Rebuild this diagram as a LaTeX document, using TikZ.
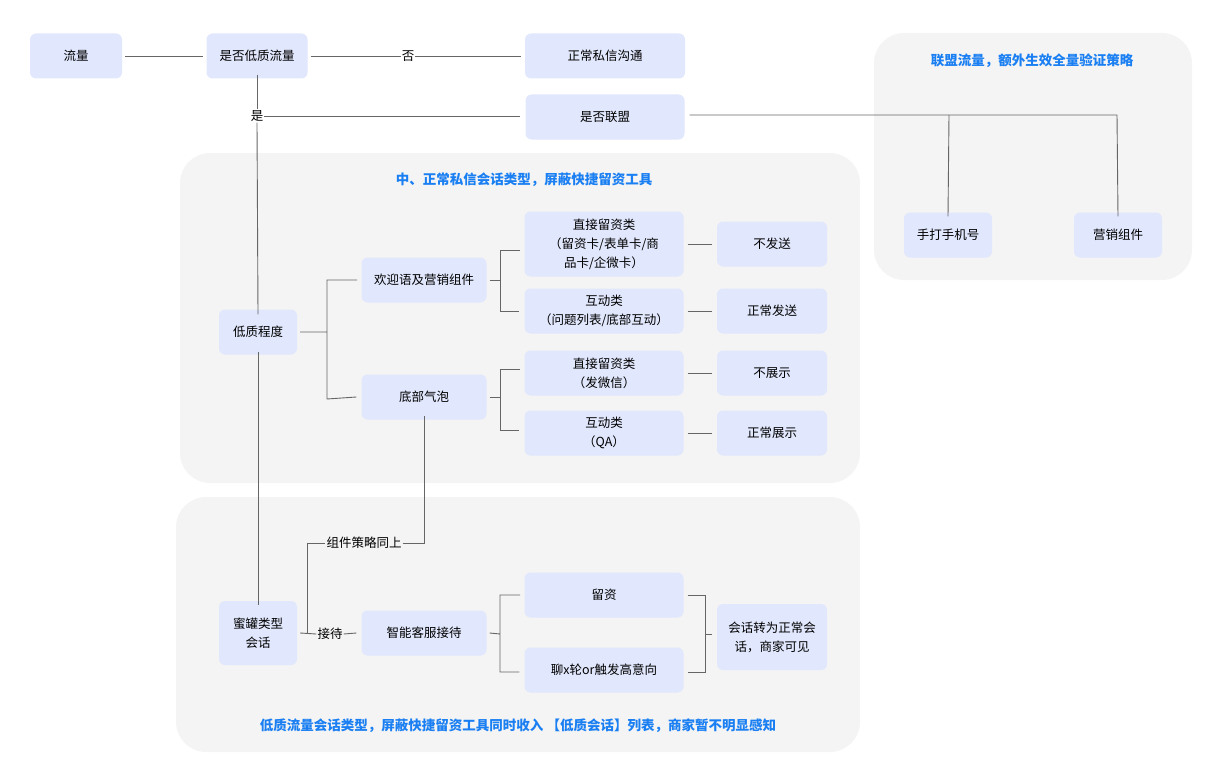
\documentclass[tikz,border=0pt]{standalone}
\usepackage{fontspec}
\setmainfont{Noto Sans CJK SC}
\begin{document}
\begin{tikzpicture}[x=1pt,y=-1pt,
  box/.style={fill=nodefill,rounded corners=6pt,inner sep=0pt,align=center,font=\fontsize{12.5}{19}\selectfont},
  grp/.style={fill=grpfill,rounded corners=30pt},
  ln/.style={draw=linec,line width=0.9pt},
  lab/.style={font=\fontsize{12.5}{15}\selectfont,inner sep=1pt},
  ttl/.style={text=titlec,font=\fontsize{13.5}{16}\selectfont\bfseries}]
\definecolor{nodefill}{HTML}{E1E7FC}
\definecolor{grpfill}{HTML}{F4F4F4}
\definecolor{linec}{HTML}{666666}
\definecolor{titlec}{HTML}{1A7FF2}
\useasboundingbox (0,0) rectangle (1224,784);
% groups
\fill[grp] (874,33) rectangle (1192,280);
\fill[grp] (180,153) rectangle (860,483);
\fill[grp] (176,497) rectangle (860,752);
\node[ttl] (t1) at (1032,61) {联盟流量，额外生效全量验证策略};
\node[ttl] (t2) at (524,180) {中、正常私信会话类型，屏蔽快捷留资工具};
\node[ttl] (t3) at (518,726) {低质流量会话类型，屏蔽快捷留资工具同时收入 【低质会话】列表，商家暂不明显感知};
% nodes
\node[box,minimum width=92,minimum height=45] (ll) at (76,56) {流量};
\node[box,minimum width=101,minimum height=45] (sf) at (257,56) {是否低质流量};
\node[box,minimum width=160,minimum height=45] (zc) at (605,56) {正常私信沟通};
\node[box,minimum width=159,minimum height=45] (lm) at (605,117) {是否联盟};
\node[box,minimum width=88,minimum height=45] (sd) at (948,235) {手打手机号};
\node[box,minimum width=88,minimum height=45] (yx) at (1118,235) {营销组件};
\node[box,minimum width=78,minimum height=45] (dz) at (258,332) {低质程度};
\node[box,minimum width=125,minimum height=45] (hy) at (424,280) {欢迎语及营销组件};
\node[box,minimum width=125,minimum height=45] (db) at (424,397) {底部气泡};
\node[box,minimum width=159,minimum height=65] (z1) at (604,244) {直接留资类\\（留资卡/表单卡/商\\品卡/企微卡）};
\node[box,minimum width=159,minimum height=45] (h1) at (604,311) {互动类\\（问题列表/底部互动）};
\node[box,minimum width=110,minimum height=45] (bf) at (772,244) {不发送};
\node[box,minimum width=110,minimum height=45] (zf) at (772,311) {正常发送};
\node[box,minimum width=159,minimum height=45] (z2) at (604,373) {直接留资类\\（发微信）};
\node[box,minimum width=159,minimum height=45] (h2) at (604,433) {互动类\\（QA）};
\node[box,minimum width=110,minimum height=45] (bz) at (772,373) {不展示};
\node[box,minimum width=110,minimum height=45] (zz) at (772,433) {正常展示};
\node[box,minimum width=78,minimum height=64] (mg) at (258,633) {蜜罐类型\\会话};
\node[box,minimum width=125,minimum height=45] (zn) at (424,633) {智能客服接待};
\node[box,minimum width=159,minimum height=45] (lz) at (604,595) {留资};
\node[box,minimum width=159,minimum height=45] (lt) at (604,670) {聊x轮or触发高意向};
\node[box,minimum width=110,minimum height=66] (hh) at (772,637) {会话转为正常会\\话，商家可见};
% labels
\node[lab] (fou) at (408,56) {否};
\node[lab] (shi) at (257,116) {是};
\node[lab] (jd) at (330,634) {接待};
\node[lab] (zj) at (364,543) {组件策略同上};
% coordinates
\coordinate (lmr) at (949,115);
\coordinate (lmr2) at (1117,115);
% connectors
\draw[ln] ([xshift=3]ll.east) -- ([xshift=-3]sf.west);
\draw[ln] ([xshift=3]sf.east) -- (fou.west);
\draw[ln] (fou.east) -- ([xshift=-4]zc.west);
\draw[ln] ([yshift=4]sf.south) -- (shi.north);
\draw[ln] (shi.east) -- ([xshift=-5]lm.west |- shi.east);
\draw[ln] (shi.south) -- ([yshift=-5]dz.north);
\draw[ln] ([xshift=5]lm.east |- lmr) -- (lmr2) -- ([yshift=-4]yx.north);
\draw[ln] (lmr) -- ([yshift=-4]sd.north);
\draw[ln] ([xshift=3]dz.east) -- (327,332) (357,280) -| (327,399) -- ([xshift=-5]db.west);
\draw[ln] ([xshift=3]hy.east) -- (500,280) (520,250) -| (500,311) -- ([xshift=-5]h1.west);
\draw[ln] ([xshift=3]db.east) -- (500,397) (520,369) -| (500,430) -- ([xshift=-5]h2.west |- 0,430);
\draw[ln] ([xshift=4]z1.east) -- ([xshift=-5]bf.west);
\draw[ln] ([xshift=4]h1.east) -- ([xshift=-5]zf.west);
\draw[ln] ([xshift=4]z2.east) -- ([xshift=-5]bz.west);
\draw[ln] ([xshift=4]h2.east) -- ([xshift=-5]zz.west);
\draw[ln] ([yshift=3]dz.south) -- ([yshift=-4]mg.north);
\draw[ln] ([xshift=3]mg.east) -- (jd.west);
\draw[ln] (jd.east) -- ([xshift=-5]zn.west);
\draw[ln] (307,634) |- (zj.west);
\draw[ln] (zj.east) -| ([yshift=4]db.south);
\draw[ln] ([xshift=3]zn.east) -- (500,634) (520,595) -| (500,672) -- ([xshift=-5]lt.west |- 0,672);
\draw[ln] ([xshift=4]lz.east) -| (705,672) -- ([xshift=4]lt.east |- 0,672) (705,634) -- ([xshift=-5]hh.west |- 0,634);
\end{tikzpicture}
\end{document}
